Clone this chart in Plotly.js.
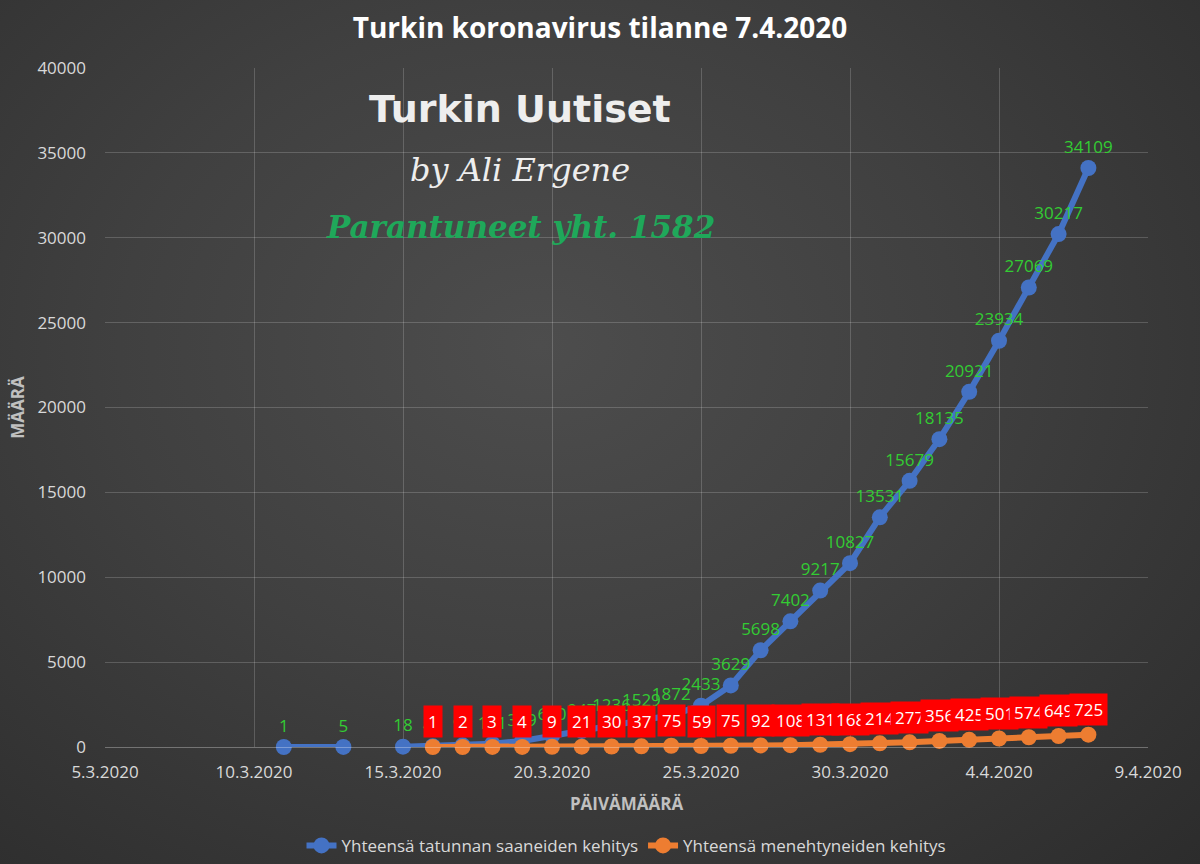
<!DOCTYPE html>
<html>
<head>
<meta charset="utf-8">
<script src="https://cdn.plot.ly/plotly-3.0.1.min.js"></script>
<style>
html,body{margin:0;padding:0;}
body{width:1200px;height:864px;background:radial-gradient(ellipse at 45% 40%, #4d4d4d 0%, #404040 45%, #2c2c2c 100%);}
#chart{width:1200px;height:864px;}
</style>
</head>
<body>
<div id="chart"></div>
<script>
// Confirmed cases (blue)
const caseDates = ['2020-03-11','2020-03-13','2020-03-14','2020-03-15','2020-03-16','2020-03-17','2020-03-18','2020-03-19','2020-03-20','2020-03-21','2020-03-22','2020-03-23','2020-03-24','2020-03-25','2020-03-26','2020-03-27','2020-03-28','2020-03-29','2020-03-30','2020-03-31','2020-04-01','2020-04-02','2020-04-03','2020-04-04','2020-04-05','2020-04-06','2020-04-07'];
const caseValues = [1,5,null,18,47,98,191,359,670,947,1236,1529,1872,2433,3629,5698,7402,9217,10827,13531,15679,18135,20921,23934,27069,30217,34109];
// Deaths (orange)
const deathDates = ['2020-03-16','2020-03-17','2020-03-18','2020-03-19','2020-03-20','2020-03-21','2020-03-22','2020-03-23','2020-03-24','2020-03-25','2020-03-26','2020-03-27','2020-03-28','2020-03-29','2020-03-30','2020-03-31','2020-04-01','2020-04-02','2020-04-03','2020-04-04','2020-04-05','2020-04-06','2020-04-07'];
const deathValues = [1,2,3,4,9,21,30,37,75,59,75,92,108,131,168,214,277,356,425,501,574,649,725];

const titleText = 'Turkin koronavirus tilanne 7.4.2020';
const xTitle = 'PÄIVÄMÄÄRÄ';
const yTitle = 'MÄÄRÄ';
const caseName = 'Yhteensä tatunnan saaneiden kehitys';
const deathName = 'Yhteensä menehtyneiden kehitys';
const watermark1 = 'Turkin Uutiset';
const watermark2 = 'by Ali Ergene';
const watermark3 = 'Parantuneet yht. 1582';

const narrow = '"Open Sans", "Liberation Sans", sans-serif';

const traces = [
  {
    type: 'scatter', mode: 'lines+markers+text', name: caseName,
    x: caseDates, y: caseValues,
    text: caseValues.map(v => v === null ? '' : String(v)),
    textposition: 'top center',
    textfont: {color: '#33cc33', size: 17, family: narrow},
    line: {color: '#4472C4', width: 6},
    marker: {color: '#4472C4', size: 16},
    connectgaps: false, cliponaxis: false
  },
  {
    type: 'scatter', mode: 'lines+markers', name: deathName,
    x: deathDates, y: deathValues,
    line: {color: '#ED7D31', width: 6},
    marker: {color: '#ED7D31', size: 16},
    cliponaxis: false
  }
];

const annotations = deathDates.map((d, i) => ({
  x: d, y: deathValues[i], xref: 'x', yref: 'y',
  text: String(deathValues[i]), showarrow: false,
  yshift: 25, bgcolor: '#ff0000', borderpad: 4,
  font: {color: '#ffffff', size: 17, family: narrow}
}));

annotations.push(
  {xref: 'paper', yref: 'paper', x: 0.398, y: 0.975, text: '<b>' + watermark1 + '</b>', showarrow: false,
   font: {family: '"DejaVu Sans", sans-serif', size: 38, color: '#eeeeee'}},
  {xref: 'paper', yref: 'paper', x: 0.398, y: 0.88, text: '<i>' + watermark2 + '</i>', showarrow: false,
   font: {family: '"DejaVu Serif", serif', size: 32, color: '#eeeeee'}},
  {xref: 'paper', yref: 'paper', x: 0.398, y: 0.795, text: '<b><i>' + watermark3 + '</i></b>', showarrow: false,
   font: {family: '"DejaVu Serif", serif', size: 31, color: '#1fa85a'}}
);

const layout = {
  width: 1200, height: 864,
  paper_bgcolor: 'rgba(0,0,0,0)', plot_bgcolor: 'rgba(0,0,0,0)',
  margin: {l: 105, r: 52, t: 68, b: 117},
  title: {text: '<b>' + titleText + '</b>', x: 0.5, xanchor: 'center', y: 0.967, yanchor: 'middle',
          font: {family: '"Open Sans", sans-serif', size: 28, color: '#ffffff'}},
  xaxis: {
    type: 'date', range: ['2020-03-05', '2020-04-09'],
    tick0: '2020-03-05', dtick: 5 * 86400000, tickformat: '%-d.%-m.%Y',
    showgrid: true, gridcolor: 'rgba(255,255,255,0.18)', gridwidth: 1,
    showline: true, linecolor: 'rgba(255,255,255,0.3)', zeroline: false,
    tickfont: {family: narrow, size: 17, color: '#d9d9d9'},
    ticks: '', ticklabelstandoff: 10,
    title: {text: '<b>' + xTitle + '</b>', font: {family: narrow, size: 17, color: '#c0c0c0'}, standoff: 15}
  },
  yaxis: {
    range: [0, 40000], dtick: 5000, tick0: 0, tickformat: 'd', separatethousands: false,
    showgrid: true, gridcolor: 'rgba(255,255,255,0.18)', gridwidth: 1,
    zeroline: false, showline: false, ticks: '', ticklabelstandoff: 18,
    tickfont: {family: narrow, size: 17, color: '#d9d9d9'},
    title: {text: '<b>' + yTitle + '</b>', font: {family: narrow, size: 17, color: '#c0c0c0'}, standoff: 8}
  },
  legend: {orientation: 'h', x: 0.5, xanchor: 'center', yref: 'container', y: 0.021, yanchor: 'middle',
           font: {family: narrow, size: 17, color: '#d9d9d9'}, itemwidth: 30},
  annotations: annotations,
  showlegend: true
};

Plotly.newPlot('chart', traces, layout, {displayModeBar: false, staticPlot: true});
</script>
</body>
</html>
